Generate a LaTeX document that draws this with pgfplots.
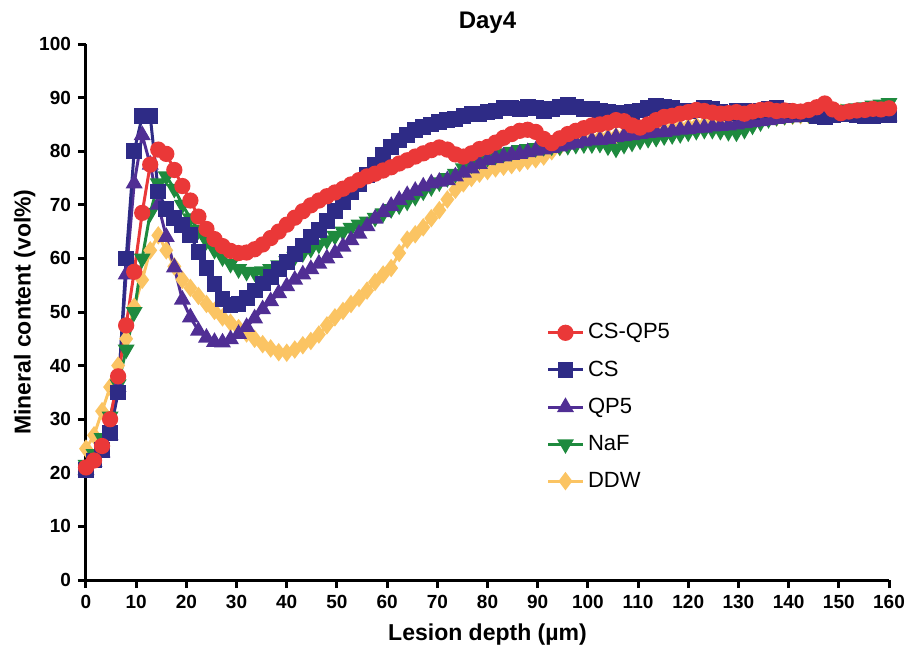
\documentclass[border=0pt]{standalone}
\usepackage{pgfplots}
\usepackage{pgfplotstable}
\pgfplotsset{compat=1.18}
\usepackage{fontspec}
\setmainfont{Liberation Sans}

\definecolor{cRed}{RGB}{234,56,56}
\definecolor{cNavy}{RGB}{46,43,134}
\definecolor{cPurple}{RGB}{80,46,148}
\definecolor{cGreen}{RGB}{30,138,62}
\definecolor{cYellow}{RGB}{251,196,99}

% depth, CS-QP5, CS, QP5, NaF, DDW
\pgfplotstableread{
x r cs qp naf ddw
0 21 20.5 20.5 21.5 24.5
1.6 22.3 22.3 22.0 23.5 27
3.2 25 24.3 23.8 26.5 31.5
4.8 30 27.5 27 30.5 36
6.4 38 35 36 36.5 40
8.0 47.5 60 57 43 45
9.6 57.5 80 74 50 51
11.2 68.5 86.5 83 60 56
12.8 77.5 86.5 77.5 68.5 61.5
14.4 80.3 72.5 70 74 64.3
16.0 79.5 69.2 64 75.3 61.5
17.6 76.5 67.5 58.3 73 58.5
19.2 73.5 66.2 52.3 70 56
20.8 70.8 64.3 49 67.5 54.5
22.4 67.8 61.2 46.5 65.3 53
24.0 65.5 58.2 45.2 63.3 51.5
25.6 63.6 55.2 44.4 61.6 50.2
27.2 62.3 52.5 44.3 60.2 49
28.8 61.4 51.3 44.9 59 48
30.4 61 51.5 45.9 58 47
32.0 61.1 52.6 47.2 57.5 46
33.6 61.7 54 48.8 57.4 45
35.2 62.6 55.3 50.5 57.6 44
36.8 63.8 56.6 52 58 43.2
38.4 65 58 53.5 58.7 42.5
40.0 66.3 59.4 54.8 59.5 42.4
41.6 67.6 60.8 56 60.3 43
43.2 68.8 62.4 57 61 43.8
44.8 69.9 64 58 61.8 44.6
46.4 70.8 65.3 59 62.6 45.8
48.0 71.6 67 60 63.4 47.5
49.6 72.3 68.8 61 64.2 49
51.2 73 70.5 62.2 65 50.2
52.8 73.8 72.3 63.4 65.7 51.5
54.4 74.6 73.8 64.6 66.3 52.6
56.0 75.3 75.5 66 66.9 54
57.6 75.8 77.5 67.4 67.6 55.6
59.2 76.4 79.3 68.6 68.4 57
60.8 77 80.8 69.8 69.2 58.2
62.4 77.7 82 70.9 69.9 61
64.0 78.3 83 71.8 70.6 63.5
65.6 79 84 72.6 71.5 64.5
67.2 79.6 84.5 73.4 72.5 65.8
68.8 80.2 85 74 73.3 67.5
70.4 80.7 85.4 74.3 74.2 69
72.0 80.3 85.8 74.6 75 71
73.6 79.4 86 75.3 75.8 72.8
75.2 79 86.5 76 76.8 74
76.8 79.6 87 76.8 77.6 75
78.4 80.4 87 77.6 78.3 75.8
80.0 80.8 87.3 78.3 78.8 76.3
81.6 81.6 87.5 78.7 79.2 76.8
83.2 82.5 88 79 79.6 77.1
84.8 83.2 88 79.3 79.9 77.4
86.4 83.8 87.8 79.5 80.2 77.8
88.0 84 88.3 79.8 80.4 78.2
89.6 83.6 88 80.1 80.6 78.5
91.2 82.3 87.5 80.3 80.8 79
92.8 81.5 87.8 80.6 80.9 80
94.4 82.4 88.3 80.9 80.9 80.8
96.0 83.2 88.6 81.2 81 81.2
97.6 83.8 88.3 81.5 81.2 81.6
99.2 84.3 87.8 81.8 81.3 81.9
100.8 84.8 87.8 82 81.3 82.1
102.4 85 87.5 82.1 81.4 82.5
104.0 85.3 87.3 82.3 80.9 82.6
105.6 85.8 87.2 82.6 80.5 82.8
107.2 85.6 87.2 82.8 81.2 83
108.8 84.8 87.3 83 81.6 83.2
110.4 84.4 87.6 83.2 82 83.4
112.0 85 88 83.4 82.3 83.6
113.6 85.8 88.4 83.5 82.5 83.8
115.2 86.4 88.3 83.6 82.8 84
116.8 86.6 88 83.8 83 84.2
118.4 87 87.6 84 83.2 84.4
120.0 87.3 87.4 84.1 83.5 84.6
121.6 87.7 87.6 84.3 83.8 84.8
123.2 87.5 88 84.4 84 85
124.8 87.2 87.8 84.6 84 85.1
126.4 87 87.3 84.7 83.8 85.2
128.0 87.1 87.2 84.8 83.6 85.3
129.6 87.3 87.5 85 83.5 85.4
131.2 87 87.5 85.2 84 85.5
132.8 87.4 87.3 85.4 84.8 85.7
134.4 87.7 87.6 85.6 85.4 85.9
136.0 87.8 87.8 85.8 86 86.1
137.6 87.5 88 86 86.4 86.3
139.2 87.6 87.6 86.2 86.6 86.5
140.8 87.5 87.4 86.3 86.8 86.6
142.4 87.4 87.3 86.4 87 86.7
144.0 87.7 87 86.5 87 86.8
145.6 88.2 86.5 86.4 87.2 86.9
147.2 88.9 86.3 86.3 87.4 87
148.8 87.8 86.8 86.5 87.5 87.1
150.4 87.1 87.2 86.6 87.7 87.2
152.0 87.4 87 86.5 87.8 87.2
153.6 87.6 86.7 86.4 88 87.3
155.2 87.7 86.5 86.3 88.2 87.3
156.8 87.9 86.5 86.4 88.5 87.4
158.4 87.8 86.7 86.5 88.7 87.4
160.0 88 86.8 86.5 89 87.5
}\dayfour

\begin{document}
\begin{tikzpicture}
\path[use as bounding box] (-43pt,-35pt) rectangle (411.5pt,290pt);
\begin{axis}[
    scale only axis,
    width=401.5pt, height=268pt,
    xmin=0, xmax=160, ymin=0, ymax=100,
    xtick distance=10, ytick distance=10,
    axis x line=bottom, axis y line=left,
    axis line style={-, line width=1.5pt},
    tick style={line width=1.5pt, black},
    tick align=outside, major tick length=4pt,
    ticklabel style={font=\fontsize{9.5}{10}\selectfont\bfseries},
    /pgf/number format/assume math mode=true,
    xlabel={Lesion depth (µm)},
    ylabel={Mineral content (vol\%)},
    label style={font=\fontsize{11.5}{12}\selectfont\bfseries},
    xlabel style={yshift=-1pt},
    ylabel style={yshift=-5pt},
    title={Day4},
    title style={font=\fontsize{12}{13}\selectfont\bfseries, yshift=-4.5pt},
    clip=false,
    every axis plot/.append style={line width=1.5pt},
    reverse legend,
    legend style={at={(0.566,0.494)}, anchor=north west, draw=none, fill=none,
        font=\fontsize{11}{12}\selectfont, row sep=5.4pt,
        legend cell align=left},
]
\addplot[color=cYellow, mark=diamond*, mark size=3.4pt] table[x=x, y=ddw] {\dayfour};
\addlegendentry{DDW}
\addplot[color=cGreen, mark=triangle*, mark size=3.4pt, mark options={rotate=180}] table[x=x, y=naf] {\dayfour};
\addlegendentry{NaF}
\addplot[color=cPurple, mark=triangle*, mark size=3.4pt] table[x=x, y=qp] {\dayfour};
\addlegendentry{QP5}
\addplot[color=cNavy, mark=square*, mark size=3.2pt] table[x=x, y=cs] {\dayfour};
\addlegendentry{CS}
\addplot[color=cRed, mark=*, mark size=3.3pt] table[x=x, y=r] {\dayfour};
\addlegendentry{CS-QP5}
\end{axis}
\end{tikzpicture}
\end{document}
